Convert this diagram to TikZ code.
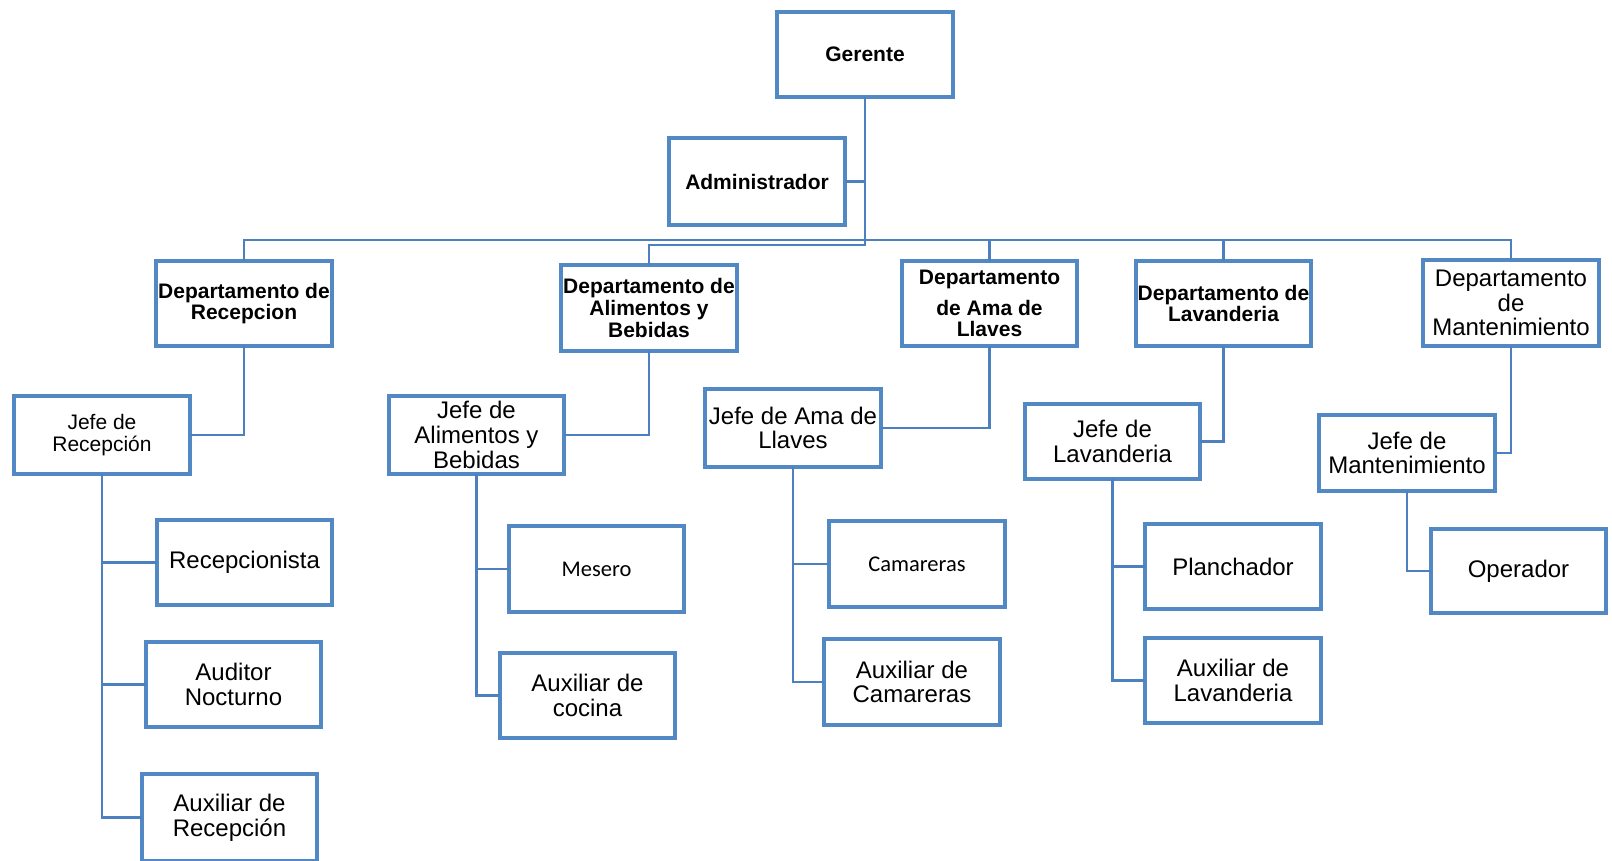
\documentclass[tikz,border=0pt]{standalone}
\usepackage{fontspec}
\setmainfont{Liberation Sans}
\newfontfamily\carlitofont{Carlito}
\definecolor{boxc}{RGB}{82,137,197}
\definecolor{linec}{RGB}{76,128,190}
\tikzset{
  obox/.style={draw=boxc, line width=3.7pt, fill=white, inner sep=0pt, outer sep=0pt, align=center},
  bfs/.style={font=\fontsize{21}{21.7}\selectfont\bfseries},
  rgs/.style={font=\fontsize{24}{24.7}\selectfont},
  sms/.style={font=\fontsize{21}{21.7}\selectfont},
  cls/.style={font=\carlitofont\fontsize{22.5}{24}\selectfont},
  conn/.style={draw=linec, line width=2.4pt}
}
\newcommand\obox[7]{%
  \node[obox,#6,minimum width={#4-#2-3.7},minimum height={#5-#3-3.7}] (#1) at ({(#2+#4)/2},{(#3+#5)/2}) {#7};}
\begin{document}
\begin{tikzpicture}[x=1pt,y=-1pt]
\useasboundingbox (0,0) rectangle (1612,860);
\fill[white] (0,0) rectangle (1612,860);
\coordinate (busy) at (0,240);
\coordinate (bustwo) at (0,245);
% top
\obox{ger}{775}{10}{955}{99}{bfs}{Gerente}
\obox{adm}{667}{136}{847}{227}{bfs}{Administrador}
% departments
\obox{rec}{154}{259}{334}{348}{bfs}{Departamento de\\Recepcion}
\obox{ali}{559}{263}{739}{353}{bfs}{Departamento de\\Alimentos y\\Bebidas}
\obox{ama}{900}{259}{1079}{348}{bfs}{Departamento\\[9pt]de Ama de\\Llaves}
\obox{lav}{1134}{259}{1313}{348}{bfs}{Departamento de\\Lavanderia}
\obox{man}{1421}{258}{1601}{348}{rgs}{Departamento\\de\\Mantenimiento}
% jefes
\obox{jrec}{12}{394}{192}{476}{sms}{Jefe de\\Recepci\'on}
\obox{jali}{387}{394}{566}{476}{rgs}{Jefe de\\Alimentos y\\Bebidas}
\obox{jama}{703}{387}{883}{469}{rgs}{Jefe de Ama de\\Llaves}
\obox{jlav}{1023}{402}{1202}{481}{rgs}{Jefe de\\Lavanderia}
\obox{jman}{1317}{413}{1497}{493}{rgs}{Jefe de\\Mantenimiento}
% staff
\obox{recep}{155}{518}{334}{607}{rgs}{Recepcionista}
\obox{aud}{144}{640}{323}{729}{rgs}{Auditor\\Nocturno}
\obox{auxrec}{140}{772}{319}{863}{rgs}{Auxiliar de\\Recepci\'on}
\obox{mes}{507}{524}{686}{614}{cls}{Mesero}
\obox{auxcoc}{498}{651}{677}{740}{rgs}{Auxiliar de\\cocina}
\obox{cam}{827}{519}{1007}{609}{cls}{Camareras}
\obox{auxcam}{822}{637}{1002}{727}{rgs}{Auxiliar de\\Camareras}
\obox{pla}{1143}{522}{1323}{611}{rgs}{Planchador}
\obox{auxlav}{1143}{636}{1323}{725}{rgs}{Auxiliar de\\Lavanderia}
\obox{ope}{1429}{527}{1608}{615}{rgs}{Operador}
% connectors: top
\draw[conn] (ger.south) -- (ger.south |- bustwo) -| (ali.north);
\draw[conn] (adm.east) -- (adm.east -| ger.south);
\draw[conn] (rec.north) -- (rec.north |- busy) -- (man.north |- busy) -- (man.north);
\draw[conn] (ama.north) -- (ama.north |- busy);
\draw[conn] (lav.north) -- (lav.north |- busy);
% departments to jefes
\draw[conn] (rec.south) |- (jrec.east);
\draw[conn] (ali.south) |- (jali.east);
\draw[conn] (ama.south) |- (jama.east);
\draw[conn] (lav.south) |- (jlav.east);
\draw[conn] (man.south) |- (jman.east);
% jefes to staff
\draw[conn] (jrec.south) |- (auxrec.west);
\draw[conn] (recep.west) -- (recep.west -| jrec.south);
\draw[conn] (aud.west) -- (aud.west -| jrec.south);
\draw[conn] (jali.south) |- (auxcoc.west);
\draw[conn] (mes.west) -- (mes.west -| jali.south);
\draw[conn] (jama.south) |- (auxcam.west);
\draw[conn] (cam.west) -- (cam.west -| jama.south);
\draw[conn] (jlav.south) |- (auxlav.west);
\draw[conn] (pla.west) -- (pla.west -| jlav.south);
\draw[conn] (jman.south) |- (ope.west);
\end{tikzpicture}
\end{document}
